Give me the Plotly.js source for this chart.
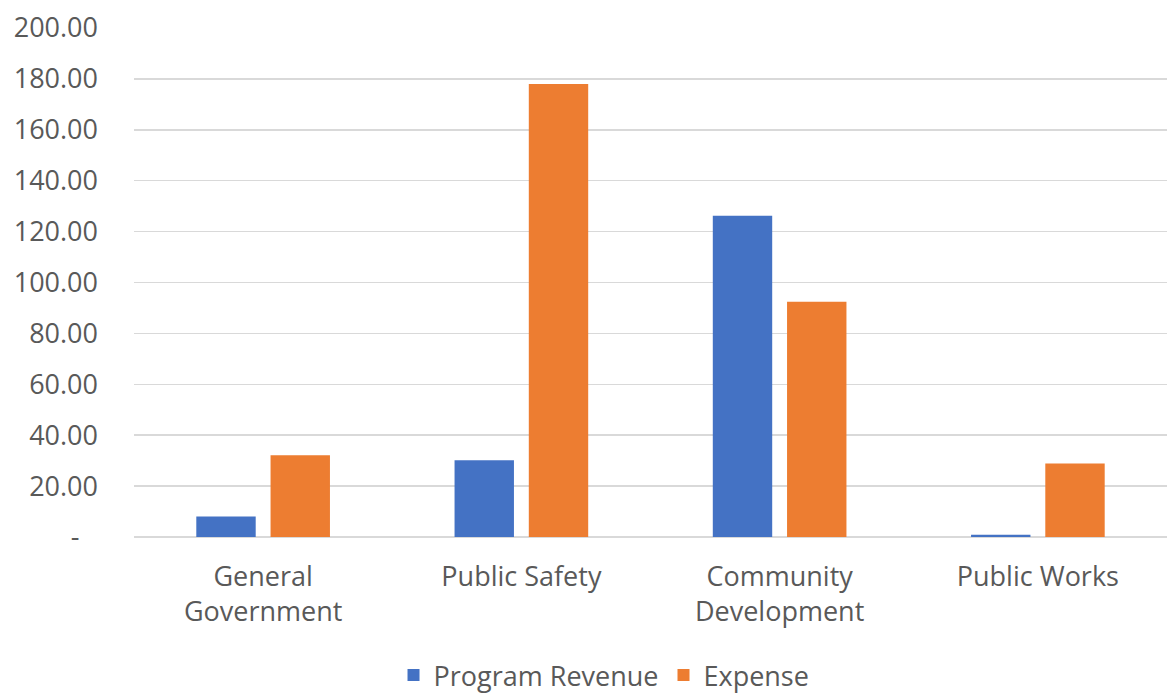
<!DOCTYPE html>
<html>
<head>
<meta charset="utf-8">
<script src="https://cdn.plot.ly/plotly-3.0.1.min.js"></script>
<style>html,body{margin:0;padding:0;background:#fff;}#chart{width:1167px;height:696px;}</style>
</head>
<body>
<div id="chart"></div>
<script>
const categories = ["General<br>Government", "Public Safety", "Community<br>Development", "Public Works"];
const programRevenue = [8.1, 30.2, 126.2, 0.9];
const expense = [32.1, 178.0, 92.4, 28.9];
const tickValues = [0, 20, 40, 60, 80, 100, 120, 140, 160, 180, 200];
const tickLabels = ["-\u00a0\u00a0\u2009", "20.00", "40.00", "60.00", "80.00", "100.00", "120.00", "140.00", "160.00", "180.00", "200.00"];

const font = {family: "Open Sans, sans-serif", size: 27, color: "#595959"};

const data = [
  {type: "bar", name: "Program Revenue", x: categories, y: programRevenue, marker: {color: "#4472C4"}},
  {type: "bar", name: "Expense", x: categories, y: expense, marker: {color: "#ED7D31"}}
];

const layout = {
  width: 1167, height: 696,
  margin: {l: 134, r: 0, t: 28, b: 159, autoexpand: false},
  paper_bgcolor: "#fff", plot_bgcolor: "#fff",
  font: font,
  barmode: "group",
  bargap: 0.425,
  bargroupgap: 0.2,
  showlegend: true,
  legend: {orientation: "h", x: 0.455, xanchor: "center", y: -0.272, yanchor: "middle", font: font, itemwidth: 30},
  xaxis: {type: "category", automargin: false, showgrid: false, zeroline: false, showline: false, ticks: "", tickfont: font, ticklabelstandoff: 21},
  yaxis: {range: [0, 200], automargin: false, tickvals: tickValues, ticktext: tickLabels, showgrid: true, gridcolor: "#D9D9D9", gridwidth: 1.5,
          zeroline: true, zerolinecolor: "#D9D9D9", zerolinewidth: 1.5, showline: false, ticks: "", tickfont: font, ticklabelstandoff: 35}
};

Plotly.newPlot("chart", data, layout, {displayModeBar: false, staticPlot: true});
</script>
</body>
</html>
